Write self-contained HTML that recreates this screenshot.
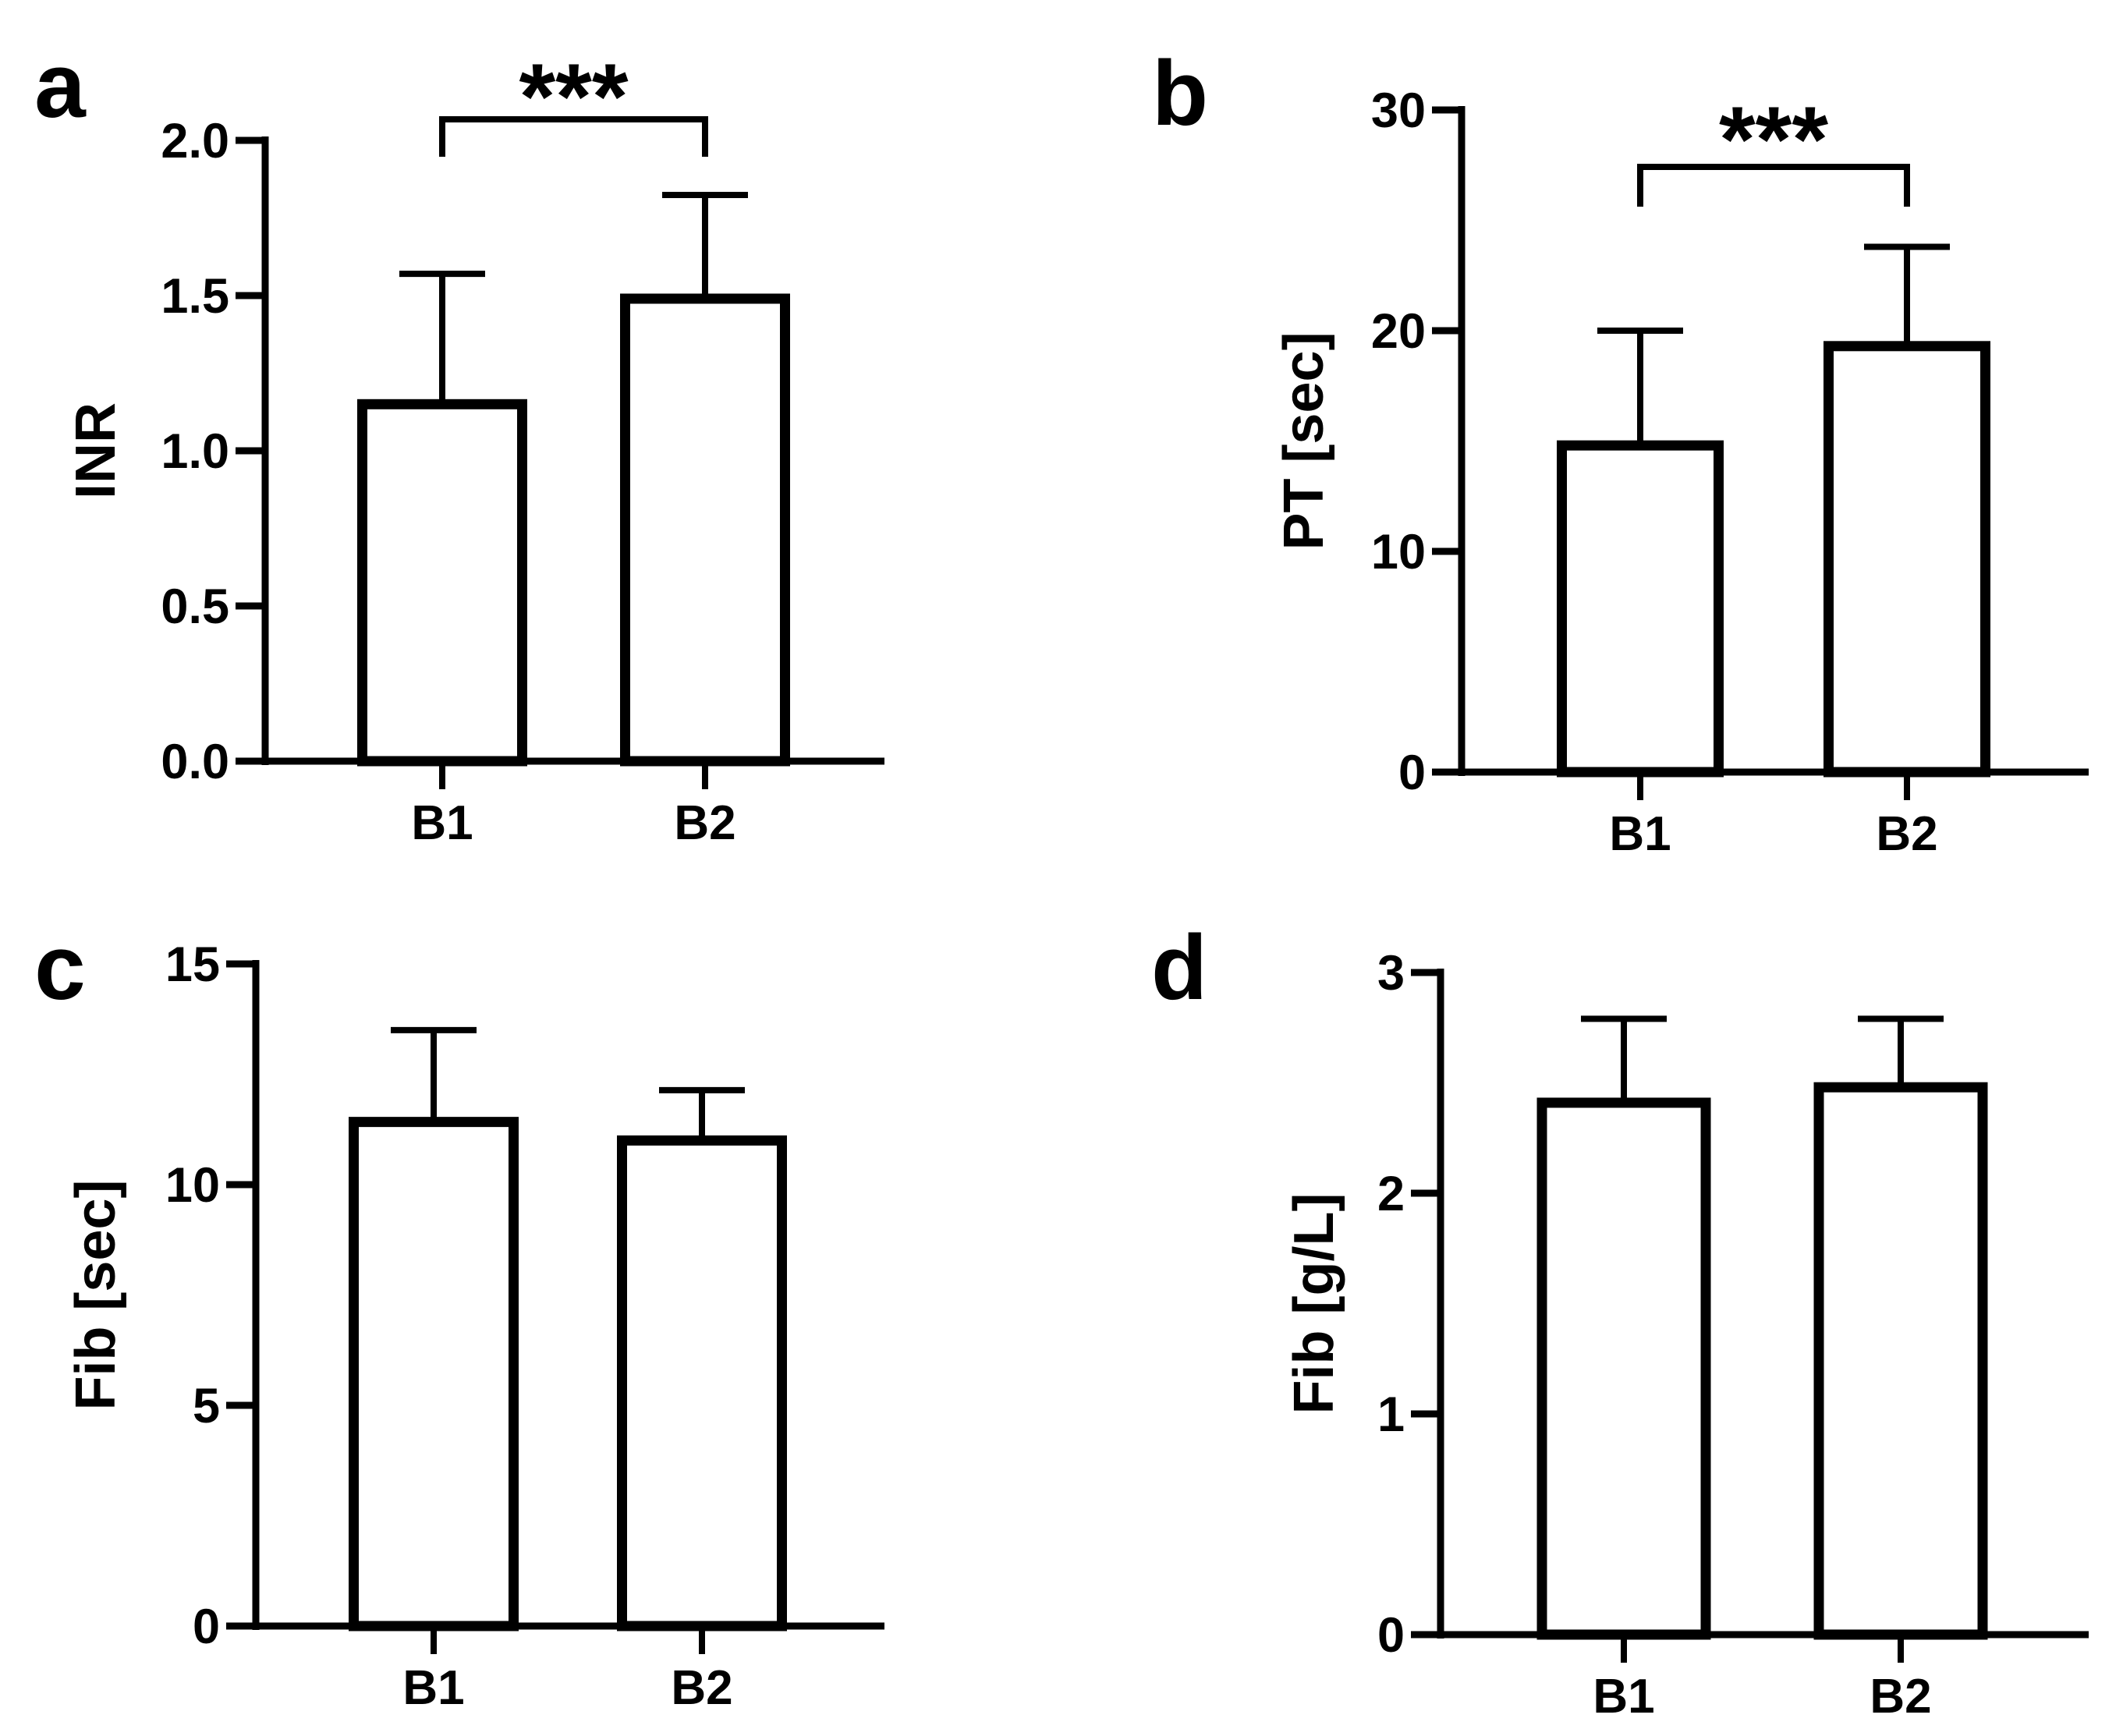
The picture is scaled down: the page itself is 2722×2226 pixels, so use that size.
<!DOCTYPE html>
<html><head><meta charset="utf-8"><style>
html,body{margin:0;padding:0;background:#fff;}
svg{display:block;font-family:"Liberation Sans",Arial,sans-serif;font-weight:bold;}
</style></head><body>
<svg id="fig" width="2722" height="2226" viewBox="0 0 2722 2226" xmlns="http://www.w3.org/2000/svg"></svg>
<script>
const categories = ["B1","B2"];
const inrMeans = [1.15, 1.49];
const inrErr = [1.57, 1.824];
const inrTicks = ["0.0","0.5","1.0","1.5","2.0"];
const ptMeans = [14.8, 19.3];
const ptErr = [20.0, 23.8];
const ptTicks = ["0","10","20","30"];
const fibSecMeans = [11.42, 11.0];
const fibSecErr = [13.5, 12.14];
const fibSecTicks = ["0","5","10","15"];
const fibGMeans = [2.41, 2.48];
const fibGErr = [2.79, 2.79];
const fibGTicks = ["0","1","2","3"];

const panels = [
 {id:"a", label:"INR", means:inrMeans, err:inrErr, ticks:inrTicks, max:2.0,
  ax:340, y0:976, yTop:180, xEnd:1134, cx:[567,904], bw:218, sig:true, bracketY:153, bracketEnd:201, starsY:103,
  lx:77, ly:150, titleX:122},
 {id:"b", label:"PT [sec]", means:ptMeans, err:ptErr, ticks:ptTicks, max:30,
  ax:1874, y0:990, yTop:141, xEnd:2678, cx:[2103,2445], bw:214, sig:true, bracketY:214, bracketEnd:265, starsY:158,
  lx:1513, ly:160, titleX:1671},
 {id:"c", label:"Fib [sec]", means:fibSecMeans, err:fibSecErr, ticks:fibSecTicks, max:15,
  ax:328, y0:2085, yTop:1236, xEnd:1134, cx:[556,900], bw:218, sig:false,
  lx:77, ly:1281, titleX:122},
 {id:"d", label:"Fib [g/L]", means:fibGMeans, err:fibGErr, ticks:fibGTicks, max:3,
  ax:1847, y0:2096, yTop:1247, xEnd:2678, cx:[2082,2437], bw:223, sig:false,
  lx:1512, ly:1281, titleX:1684}
];
const svg = document.getElementById("fig");
const NS = "http://www.w3.org/2000/svg";
function mk(tag, attrs, parent){
  const e = document.createElementNS(NS, tag);
  for (const k in attrs) e.setAttribute(k, attrs[k]);
  parent.appendChild(e);
  return e;
}
panels.forEach(p => {
  const g = mk("g", {}, svg);
  
  
  const yS = v => p.y0 - (v / p.max) * (p.y0 - p.yTop);
  const pl = mk("text", {x:p.lx, y:p.ly, "font-size":"118", "text-anchor":"middle"}, g);
  pl.textContent = p.id;
  
  
  const yt = mk("text", {x:0, y:0, "font-size":"72", "text-anchor":"middle", transform:`translate(${p.titleX + 25},${(p.y0+p.yTop)/2}) rotate(-90)`}, g);
  yt.textContent = p.label;
  
  
  p.means.forEach((m, i) => {
    const cx = p.cx[i];
    const top = yS(m);
    const eTop = yS(p.err[i]);
    const el = mk("line", {x1:cx, x2:cx, y1:top, y2:eTop, stroke:"#000", "stroke-width":"8"}, g);
    
    
    const cap = mk("line", {x1:cx-55, x2:cx+55, y1:eTop, y2:eTop, stroke:"#000", "stroke-width":"8"}, g);
    
    
    const r = mk("rect", {x:cx - p.bw/2 + 6.5, y:top, width:p.bw - 13, height:p.y0 - top, fill:"#fff", stroke:"#000", "stroke-width":"13"}, g);
    
    
    const tk = mk("line", {x1:cx, x2:cx, y1:p.y0, y2:p.y0+36, stroke:"#000", "stroke-width":"8"}, g);
    
    
    const xl = mk("text", {x:cx, y:p.y0+100, "font-size":"62", "text-anchor":"middle"}, g);
    xl.textContent = categories[i];
    
    
  });
  const ya = mk("line", {x1:p.ax, x2:p.ax, y1:p.yTop-5, y2:p.y0+5, stroke:"#000", "stroke-width":"9"}, g);
  
  
  const xa = mk("line", {x1:p.ax-38, x2:p.xEnd, y1:p.y0, y2:p.y0, stroke:"#000", "stroke-width":"9"}, g);
  
  
  p.ticks.forEach((t, i) => {
    const v = parseFloat(t);
    const y = yS(v);
    const tl = mk("line", {x1:p.ax-38, x2:p.ax, y1:y, y2:y, stroke:"#000", "stroke-width":"9"}, g);
    
    
    const tt = mk("text", {x:p.ax-46, y:y+22, "font-size":"63", "text-anchor":"end"}, g);
    tt.textContent = t;
    
    
  });
  if (p.sig) {
    const br = mk("polyline", {points:`${p.cx[0]},${p.bracketEnd} ${p.cx[0]},${p.bracketY} ${p.cx[1]},${p.bracketY} ${p.cx[1]},${p.bracketEnd}`, fill:"none", stroke:"#000", "stroke-width":"8"}, g);
    
    
    const st = mk("text", {x:(p.cx[0]+p.cx[1])/2, y:p.starsY+62, "font-size":"120", "text-anchor":"middle"}, g);
    st.textContent = "***";
    
    
  }
});
</script>
</body></html>
